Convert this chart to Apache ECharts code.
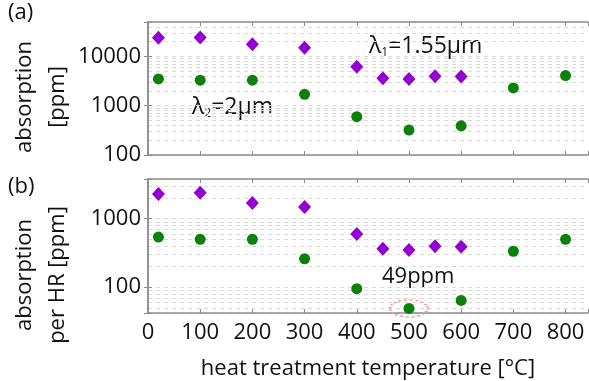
<!DOCTYPE html>
<html>
<head>
<meta charset="utf-8">
<script src="https://cdn.jsdelivr.net/npm/echarts@6/dist/echarts.min.js"></script>
<style>
html,body{margin:0;padding:0;background:#fff;}
#c{width:589px;height:381px;}
</style>
</head>
<body>
<div id="c"></div>
<script>
// ---- data ----
const diamondTemps = [20, 100, 200, 300, 400, 450, 500, 550, 600];
const circleTemps  = [20, 100, 200, 300, 400, 500, 600, 700, 800];
const absA_155 = [23900, 24200, 17600, 15000, 6200, 3600, 3500, 3950, 3900];
const absA_2   = [3500, 3300, 3300, 1700, 600, 320, 390, 2300, 4100];
const absB_155 = [2300, 2400, 1700, 1480, 600, 365, 350, 395, 390];
const absB_2   = [540, 500, 500, 260, 95, 49, 64, 335, 500];
const xTicks = [0, 100, 200, 300, 400, 500, 600, 700, 800];
const yRangeA = [100, 50000];
const yRangeB = [42, 3800];
const highlight = [500, 49];
const yTitleA = 'absorption\n[ppm]';
const yTitleB = 'absorption\nper HR [ppm]';
const xTitle = 'heat treatment temperature [°C]';

const FONT = 'Open Sans';
const AX = '#8c8c8c';
const GRID = '#d9d9d9';
const PURPLE = '#9400d3';
const GREEN = '#0a820a';

function pairs(xs, ys){ return xs.map((x,i)=>[x, ys[i]]); }
function minorLines(lo, hi){
  const out = [];
  for (let d = Math.pow(10, Math.floor(Math.log10(lo))); d < hi; d *= 10){
    for (let m = 1; m <= 9; m++){
      const v = m*d;
      if (v > lo && v < hi) out.push({yAxis: v});
    }
  }
  return out;
}
const isPow10 = v => Math.abs(Math.log10(v) - Math.round(Math.log10(v))) < 1e-6;

const grids = [
  {left: 148, top: 22, right: 1, height: 133, containLabel:false, outerBoundsMode:'none'},
  {left: 148, top: 179, right: 1, height: 134, containLabel:false, outerBoundsMode:'none'}
];
function xAxisPair(gi, showLabels, name){
  return [{
    type:'value', gridIndex: gi, min: 0, max: 843, interval: 100, position:'bottom', z: 3,
    axisLine:{show:true, lineStyle:{color:AX, width:1.5}},
    axisTick:{show:true, inside:true, length:4, lineStyle:{color:AX}},
    splitLine:{show:false},
    axisLabel:{show:showLabels, color:'#111', fontFamily:FONT, fontSize:22, margin:9,
      formatter: v => xTicks.includes(v) ? String(v) : ''},
    name: name || '', nameLocation:'middle', nameGap: 45,
    nameTextStyle:{color:'#111', fontFamily:FONT, fontSize:22}
  },{
    type:'value', gridIndex: gi, min: 0, max: 843, interval: 100, position:'top', z: 3,
    axisLine:{show:true, lineStyle:{color:AX, width:1.5}},
    axisTick:{show:true, inside:true, length:4, lineStyle:{color:AX}},
    splitLine:{show:false}, axisLabel:{show:false}
  }];
}
function yAxisPair(gi, range){
  return [{
    type:'log', logBase:10, gridIndex: gi, min: range[0], max: range[1], position:'left', z: 0,
    axisLine:{show:true, lineStyle:{color:AX, width:1.5}},
    axisTick:{show:true, inside:true, length:4, lineStyle:{color:AX}},
    splitLine:{show:true, lineStyle:{color:GRID, type:[4,4], width:1}},
    axisLabel:{color:'#111', fontFamily:FONT, fontSize:22, margin:7,
      formatter: v => isPow10(v) ? String(Math.round(v)) : ''}
  },{
    type:'log', logBase:10, gridIndex: gi, min: range[0], max: range[1], position:'right', z: 3,
    axisLine:{show:true, lineStyle:{color:AX, width:1.5}},
    axisTick:{show:true, inside:true, length:4, lineStyle:{color:AX}},
    splitLine:{show:false}, axisLabel:{show:false}
  }];
}

const xAxes = [...xAxisPair(0, false), ...xAxisPair(1, true, xTitle)];
const yAxes = [...yAxisPair(0, yRangeA), ...yAxisPair(1, yRangeB)];

const gridLineSeries = (xi, yi, range) => ({
  type:'line', xAxisIndex:xi, yAxisIndex:yi, data:[], silent:true, symbol:'none', z:0,
  markLine:{silent:true, symbol:'none', label:{show:false}, z:0, animation:false,
    lineStyle:{color:GRID, type:[4,4], width:1}, emphasis:{disabled:true},
    data: minorLines(range[0], range[1])}
});
const dot = (xi, yi, data, symbol, size, color) => ({
  type:'scatter', xAxisIndex:xi, yAxisIndex:yi, data, symbol, symbolSize:size, z:10,
  itemStyle:{color, borderWidth:0, opacity:1}, emphasis:{disabled:true}
});

const series = [
  gridLineSeries(0, 0, yRangeA),
  gridLineSeries(2, 2, yRangeB),
  dot(0, 0, pairs(diamondTemps, absA_155), 'diamond', [13,14], PURPLE),
  dot(0, 0, pairs(circleTemps, absA_2), 'circle', 11, GREEN),
  dot(2, 2, pairs(diamondTemps, absB_155), 'diamond', [13,14], PURPLE),
  Object.assign(dot(2, 2, pairs(circleTemps, absB_2), 'circle', 11, GREEN), {
    markPoint:{silent:true, symbol:'circle', symbolSize:[38,17], label:{show:false},
      itemStyle:{color:'rgba(0,0,0,0)', borderColor:'#f29c9c', borderWidth:2, borderType:[2,2]},
      data:[{coord: highlight}]}
  })
];

const txt = {fill:'#111', font:'22px "Open Sans"'};
const sub = {s:{fontSize:12, fontFamily:FONT, fill:'#111', padding:[12,0,0,0]}};
const yTitle = (text, x, y) => ({
  type:'text', x, y, rotation: Math.PI/2,
  style:{text, fill:'#111', font:'22px "Open Sans"', lineHeight:33, align:'center', verticalAlign:'middle'}
});
const graphic = [
  {type:'text', left:8, top:2, style:{...txt, text:'(a)'}},
  {type:'text', left:8, top:176, style:{...txt, text:'(b)'}},
  yTitle(yTitleA, 41, 97),
  yTitle(yTitleB, 41, 275),
  {type:'text', left:369, top:35, style:{text:'λ{s|1}=1.55μm', font:'23px "Open Sans"', fill:'#111', rich:sub}},
  {type:'text', left:192, top:96, style:{text:'λ{s|2}=2μm', font:'23px "Open Sans"', fill:'#111', rich:sub}},
  {type:'text', left:382, top:266, style:{...txt, text:'49ppm'}}
];

const chart = echarts.init(document.getElementById('c'), null, {renderer:'canvas'});
chart.setOption({
  animation:false,
  backgroundColor:'#fff',
  grid: grids,
  xAxis: xAxes,
  yAxis: yAxes,
  series: series,
  graphic: graphic
});
</script>
</body>
</html>
